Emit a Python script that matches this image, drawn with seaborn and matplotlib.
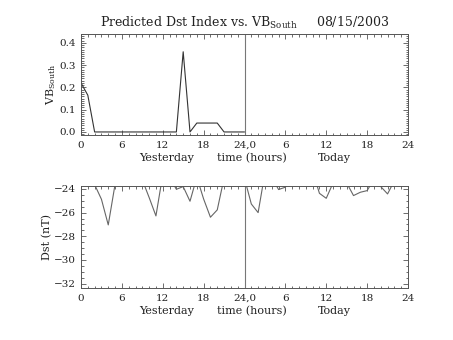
import matplotlib
matplotlib.use("Agg")
import matplotlib.pyplot as plt
import matplotlib.ticker as mticker
import seaborn as sns
import pandas as pd

# ---- data ----
vb_hours = list(range(0, 25))
vb_values = [0.22, 0.165, 0.0, 0.0, 0.0, 0.0, 0.0, 0.0, 0.0, 0.0, 0.0, 0.0, 0.0, 0.0,
             0.0, 0.36, 0.0, 0.04, 0.04, 0.04, 0.04, 0.0, 0.0, 0.0, 0.0]

dst_hours = list(range(0, 47))
dst_values = [-23.0, -23.0, -23.63, -24.87, -27.04, -23.61, -23.0, -23.0, -23.0, -23.23,
              -24.72, -26.28, -22.8, -23.0, -24.03, -23.8, -25.04, -23.0, -24.85, -26.39,
              -25.77, -23.08, -23.0, -23.0, -23.1, -25.27, -26.0, -22.64, -23.0, -24.05,
              -23.85, -23.0, -23.0, -23.0, -22.5, -24.37, -24.79, -23.49, -23.0, -23.49,
              -24.56, -24.28, -24.14, -23.17, -23.8, -24.42, -23.3]

x_ticks = [0, 6, 12, 18, 24, 30, 36, 42, 48]
x_tick_labels = ["0", "6", "12", "18", "24,0", "6", "12", "18", "24"]
vb_ticks = [0.0, 0.1, 0.2, 0.3, 0.4]
dst_ticks = [-32, -30, -28, -26, -24]
title_text = "Predicted Dst Index vs. VB$_{\\mathrm{South}}$     08/15/2003"

sns.set_style("ticks")
plt.rcParams["font.family"] = ["DejaVu Serif"]
plt.rcParams["mathtext.fontset"] = "dejavuserif"

fig = plt.figure(figsize=(4.53, 3.40), dpi=100)
W, H = 453, 340
def axpos(l, t, r, b):
    return [l / W, 1 - b / H, (r - l) / W, (b - t) / H]

ax1 = fig.add_axes(axpos(81, 33.5, 408, 135.3))
ax2 = fig.add_axes(axpos(81, 186, 408, 288.3))

frame_c = "#555555"
line_c1 = "#333333"
line_c2 = "#666666"

df1 = pd.DataFrame({"hour": vb_hours, "vb": vb_values})
df2 = pd.DataFrame({"hour": dst_hours, "dst": dst_values})
sns.lineplot(data=df1, x="hour", y="vb", ax=ax1, color=line_c1, linewidth=0.8)
sns.lineplot(data=df2, x="hour", y="dst", ax=ax2, color=line_c2, linewidth=0.8)

ax1.set_ylim(-0.015, 0.442)
ax2.set_ylim(-32.4, -23.75)
ax1.set_yticks(vb_ticks)
ax1.set_yticklabels([f"{v:.1f}" for v in vb_ticks])
ax1.yaxis.set_minor_locator(mticker.MultipleLocator(0.01))
ax2.set_yticks(dst_ticks)
ax2.set_yticklabels([f"\u2212{abs(v)}" for v in dst_ticks])
ax2.yaxis.set_minor_locator(mticker.MultipleLocator(0.5))

for ax in (ax1, ax2):
    ax.set_xlim(0, 48)
    ax.set_xticks(x_ticks)
    ax.set_xticklabels(x_tick_labels)
    ax.xaxis.set_minor_locator(mticker.MultipleLocator(1))
    ax.axvline(24, color="#777777", linewidth=0.8)
    ax.tick_params(which="both", direction="in", top=True, right=True,
                   colors=frame_c, labelcolor="#222222", labelsize=7.5, width=0.6)
    ax.tick_params(which="major", length=3.5, pad=4)
    ax.tick_params(which="minor", length=1.8)
    for s in ax.spines.values():
        s.set_color(frame_c)
        s.set_linewidth(0.7)
    ax.set_xlabel("")
    ax.text(12.5, -0.22, "Yesterday", transform=ax.get_xaxis_transform(),
            ha="center", va="center", fontsize=8, color="#222222")
    ax.text(25.1, -0.22, "time (hours)", transform=ax.get_xaxis_transform(),
            ha="center", va="center", fontsize=8, color="#222222")
    ax.text(37.2, -0.22, "Today", transform=ax.get_xaxis_transform(),
            ha="center", va="center", fontsize=8, color="#222222")

ax1.set_ylabel("VB$_{\\mathrm{South}}$", fontsize=8, color="#222222", labelpad=1)
ax2.set_ylabel("Dst (nT)", fontsize=8, color="#222222", labelpad=1)
ax1.set_title(title_text, fontsize=9, color="#222222", pad=5)

fig.savefig("out.png", dpi=100)
